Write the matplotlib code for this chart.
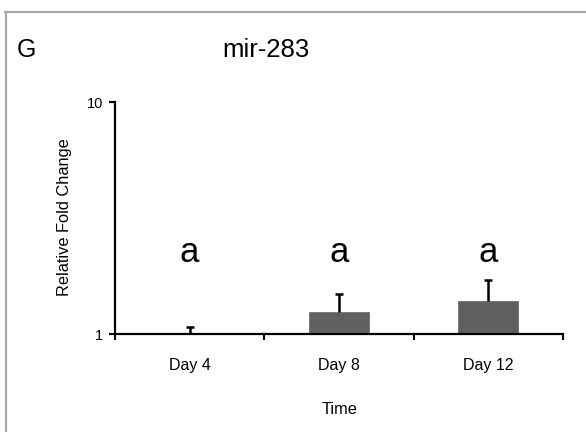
import numpy as np
import matplotlib
matplotlib.use("Agg")
import matplotlib.pyplot as plt
from matplotlib.lines import Line2D

plt.rcParams['font.family'] = ['Liberation Sans', 'DejaVu Sans']

days = ["Day 4", "Day 8", "Day 12"]
fold = [1.0, 1.25, 1.39]
err_up = [0.075, 0.23, 0.32]
letters = ["a", "a", "a"]

W, H = 586, 432
fig = plt.figure(figsize=(W/100, H/100), dpi=100)

# grey frame (top + left only)
fig.add_artist(Line2D([5/W, 1], [1-11.5/H, 1-11.5/H], color="#a8a8a8", lw=1.6))
fig.add_artist(Line2D([5.5/W, 5.5/W], [0, 1-11.5/H], color="#a8a8a8", lw=1.6))

ax = fig.add_axes([115/W, (H-334)/H, (563-115)/W, (334-102)/H])
x = np.arange(len(days))
ax.bar(x, np.array(fold) - 1, bottom=1, width=0.4, color="#606060", edgecolor="#707070", lw=0.6, zorder=2)
eb = ax.errorbar(x, fold, yerr=[np.zeros(len(x)), err_up], fmt="none", ecolor="k",
                 elinewidth=1.8, capsize=2.6, capthick=1.8, zorder=3)
# only the upper caps
eb[1][0].set_visible(False)

for xi, t in zip(x, letters):
    ax.text(xi, 2.04, t, ha="center", va="baseline", fontsize=25)

ax.set_yscale("log")
ax.set_ylim(1, 10)
ax.set_xlim(-0.5, 2.5)
ax.set_yticks([1, 10])
ax.set_yticklabels(["1", "10"], fontsize=10.5)
ax.yaxis.set_minor_locator(matplotlib.ticker.NullLocator())
ax.set_xticks([-0.5, 0.5, 1.5, 2.5])
ax.set_xticklabels([])
ax.set_xticks(x, minor=True)
ax.set_xticklabels(days, minor=True, fontsize=11.5)
ax.tick_params(axis="x", which="minor", length=0, pad=17)
ax.tick_params(axis="x", which="major", direction="out", length=4.5, width=1.5)
ax.tick_params(axis="y", which="major", direction="out", length=4.5, width=1.5, pad=4)

for s in ["top", "right"]:
    ax.spines[s].set_visible(False)
for s in ["left", "bottom"]:
    ax.spines[s].set_linewidth(1.6)

fig.text(65/W, 1-217/H, "Relative Fold Change", rotation=90, ha="center", va="center", fontsize=11.8)
fig.text(340/W, 1-410/H, "Time", ha="center", va="center", fontsize=11.8)
fig.text(266/W, 1-50/H, "mir-283", ha="center", va="center", fontsize=18.5)
fig.text(17/W, 1-50/H, "G", ha="left", va="center", fontsize=18)

fig.savefig("out.png", dpi=100)
